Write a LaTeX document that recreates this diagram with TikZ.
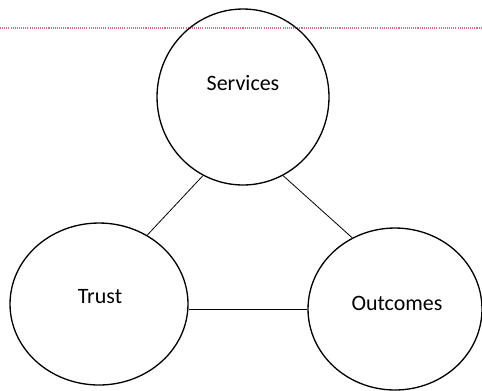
\documentclass[tikz,border=0pt]{standalone}
\usepackage{fontspec}
\setmainfont{Carlito}
\usetikzlibrary{shapes.geometric}
\definecolor{marginred}{RGB}{224,104,136}
\tikzset{
  bubble/.style={draw, ellipse, line width=0.75pt, inner sep=0pt},
  link/.style={line width=0.45pt},
  word/.style={font=\fontsize{12.5}{15}\selectfont}
}
\begin{document}
\begin{tikzpicture}[x=0.02cm,y=-0.02cm]
    \useasboundingbox (0,0) rectangle (482,390);
    \draw[marginred, line width=0.9pt, dash pattern=on 0.6pt off 0.6pt] (0,28) -- (482,28);

    \node[bubble, minimum width=3.44cm, minimum height=3.52cm] (serv) at (243,97) {};
    \node[bubble, minimum width=3.56cm, minimum height=3.24cm] (trust) at (99,304) {};
    \node[bubble, minimum width=3.48cm, minimum height=3.24cm] (out) at (395,309) {};

    \node[word] (servtxt) at (243,83) {Services};
    \node[word] (trusttxt) at (100,297) {Trust};
    \node[word] (outtxt) at (397,303) {Outcomes};

    \draw[link] (serv.243) -- (trust.55);
    \draw[link] (serv.297) -- (out.121);
    \draw[link] (out.west -| trust.east) -- (out.west);
\end{tikzpicture}
\end{document}
